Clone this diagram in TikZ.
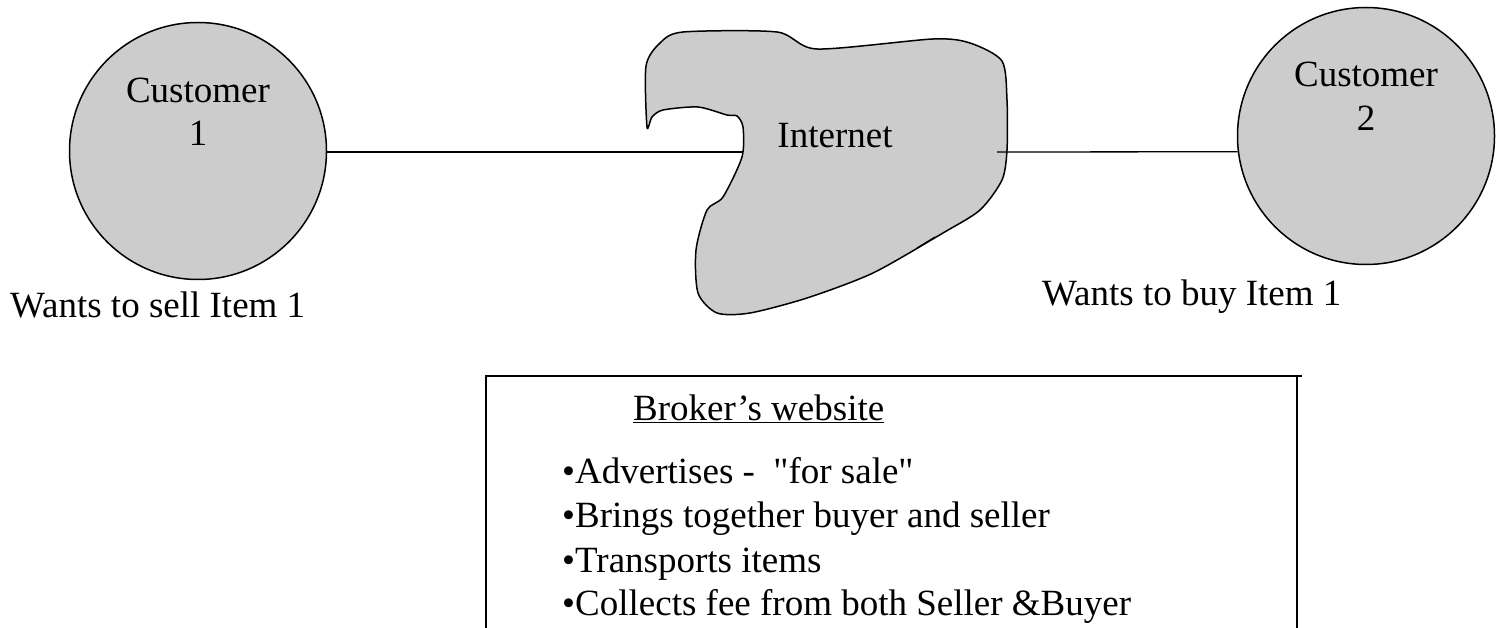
\documentclass[tikz,border=0pt]{standalone}
\usepackage{fontspec}
\setmainfont{Liberation Serif}[Ligatures=TeXOff]
\begin{document}
\begin{tikzpicture}[x=1pt,y=-1pt,
  txt/.style={font=\fontsize{37}{44}\selectfont, inner sep=0pt, anchor=base},
  cust/.style={circle, draw, line width=1.5pt, fill=black!20, minimum size=257pt, inner sep=0pt},
  conn/.style={line width=1.3pt},
  boxline/.style={line width=2pt}]
\useasboundingbox (0,0) rectangle (1502,628);
% customers
\node[cust] (c1) at (198,151) {};
\node[cust] (c2) at (1366,136) {};
\node[txt] (c1a) at (198,103) {Customer};
\node[txt] (c1b) at (198,146) {1};
\node[txt] (c2a) at (1366,87) {Customer};
\node[txt] (c2b) at (1366,131) {2};
% cloud
\draw[line width=1.5pt, fill=black!20] plot[smooth cycle, tension=0.45] coordinates {
 (646,66) (660,43) (683,32) (777,32) (817,49) (933,39) (970,43) (1002,61)
 (1007,100) (1007,150) (1002,180) (980,210) (943,233) (873,273) (807,298)
 (750,313) (717,313) (698,293) (696,250) (707,210) (723,197) (742,157)
 (743,127) (737,116) (727,115) (698,107) (663,110) (652,117) (647,127)};
\draw[line width=1.2pt] (917,248) -- (935,237);
\node[txt] (inet) at (835,148) {Internet};
\coordinate (inetL) at (743,152);
\coordinate (inetR) at (997,152);
\draw[conn] (c1.east |- inetL) -- (inetL);
\draw[conn] (inetR) -- (c2.187);
% captions
\node[txt, anchor=base west] (w1) at (10,318) {Wants to sell Item 1};
\node[txt, anchor=base west] (w2) at (1042,306) {Wants to buy Item 1};
% broker box
\coordinate (bl) at (486,628);
\coordinate (tl) at (486,376);
\coordinate (tr) at (1302,376);
\coordinate (rt) at (1297,376);
\coordinate (rb) at (1297,628);
\draw[boxline] (bl) -- (tl) -- (tr);
\draw[boxline] (rt) -- (rb);
\node[txt, anchor=base west] (bt) at (633,420) {\underline{Broker’s website}};
\node[txt, anchor=base west] (b1) at (562,483) {•Advertises -\ \ "for sale"};
\node[txt, anchor=base west] (b2) at (562,527) {•Brings together buyer and seller};
\node[txt, anchor=base west] (b3) at (562,572) {•Transports items};
\node[txt, anchor=base west] (b4) at (562,615) {•Collects fee from both Seller \&Buyer};
\end{tikzpicture}
\end{document}
